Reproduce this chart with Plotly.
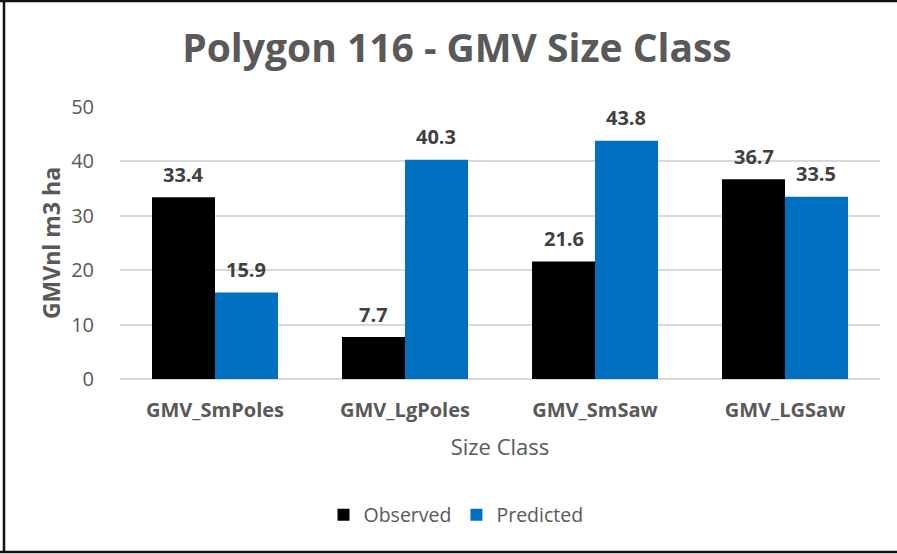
import plotly.graph_objects as go

# Size classes and gross merchantable volume (m3/ha)
categories = ["GMV_SmPoles", "GMV_LgPoles", "GMV_SmSaw", "GMV_LGSaw"]
observed = [33.4, 7.7, 21.6, 36.7]
predicted = [15.9, 40.3, 43.8, 33.5]
y_ticks = [0, 10, 20, 30, 40, 50]

W, H = 897, 554
L, R, T, B = 120, 17, 107, 175
BARGAP = 0.337
bar_w = (1 - BARGAP) / 2

FONT = "Open Sans"
GREY = "#595959"
DARK = "#404040"

fig = go.Figure()
fig.add_trace(go.Bar(name="Observed", x=categories, y=observed,
                     marker=dict(color="#000000", line=dict(width=0))))
fig.add_trace(go.Bar(name="Predicted", x=categories, y=predicted,
                     marker=dict(color="#0070C0", line=dict(width=0))))

# value labels above each bar
annotations = []
for series, shift in ((observed, -bar_w / 2), (predicted, bar_w / 2)):
    for i, v in enumerate(series):
        annotations.append(dict(
            x=i + shift, y=v, xref="x", yref="y", text=f"{v:.1f}",
            showarrow=False, yanchor="middle", yshift=23,
            font=dict(family=FONT, size=20, color=DARK, weight="bold")))

# frame lines around the chart (left, top, bottom)
pw, ph = W - L - R, H - T - B
def px(xp):
    return (xp - L) / pw
def py(yp):
    return (H - B - yp) / ph
frame = dict(type="line", xref="paper", yref="paper",
             line=dict(color="#111111", width=2.5), layer="above")
shapes = [
    dict(frame, x0=px(4), x1=px(4), y0=py(0), y1=py(553)),
    dict(frame, x0=px(0), x1=px(W), y0=py(1), y1=py(1)),
    dict(frame, x0=px(0), x1=px(W), y0=py(552), y1=py(552)),
]

fig.update_layout(
    width=W, height=H,
    margin=dict(l=L, r=R, t=T, b=B, pad=0),
    paper_bgcolor="white", plot_bgcolor="white",
    barmode="group", bargap=BARGAP, bargroupgap=0,
    title=dict(text="<b>Polygon 116 - GMV Size Class</b>",
               x=457 / W, xanchor="center", y=1 - 48 / H, yanchor="middle",
               font=dict(family=FONT, size=39, color=GREY)),
    font=dict(family=FONT, color=GREY),
    showlegend=True,
    legend=dict(orientation="h", x=px(456), xanchor="center",
                y=py(515), yanchor="middle",
                font=dict(family=FONT, size=19.5, color=GREY),
                itemwidth=30, tracegroupgap=0, bgcolor="rgba(0,0,0,0)"),
    annotations=annotations,
    shapes=shapes,
)

fig.update_xaxes(
    type="category", showgrid=False, showline=False, zeroline=False,
    ticks="", tickfont=dict(family=FONT, size=20, color=GREY, weight="bold"),
    ticklabelstandoff=17,
    title=dict(text="Size Class", standoff=17,
               font=dict(family=FONT, size=22, color=GREY)),
)
fig.update_yaxes(
    range=[0, 50], tickvals=y_ticks, showgrid=True, gridcolor="#D9D9D9",
    gridwidth=1.5, zeroline=True, zerolinecolor="#D9D9D9", zerolinewidth=1.5,
    showline=False, ticks="", ticklabelstandoff=25,
    tickfont=dict(family=FONT, size=20, color=GREY),
    title=dict(text="<b>GMVnl m3 ha</b>", standoff=4,
               font=dict(family=FONT, size=23, color=GREY)),
)

fig.write_html("out.html")
